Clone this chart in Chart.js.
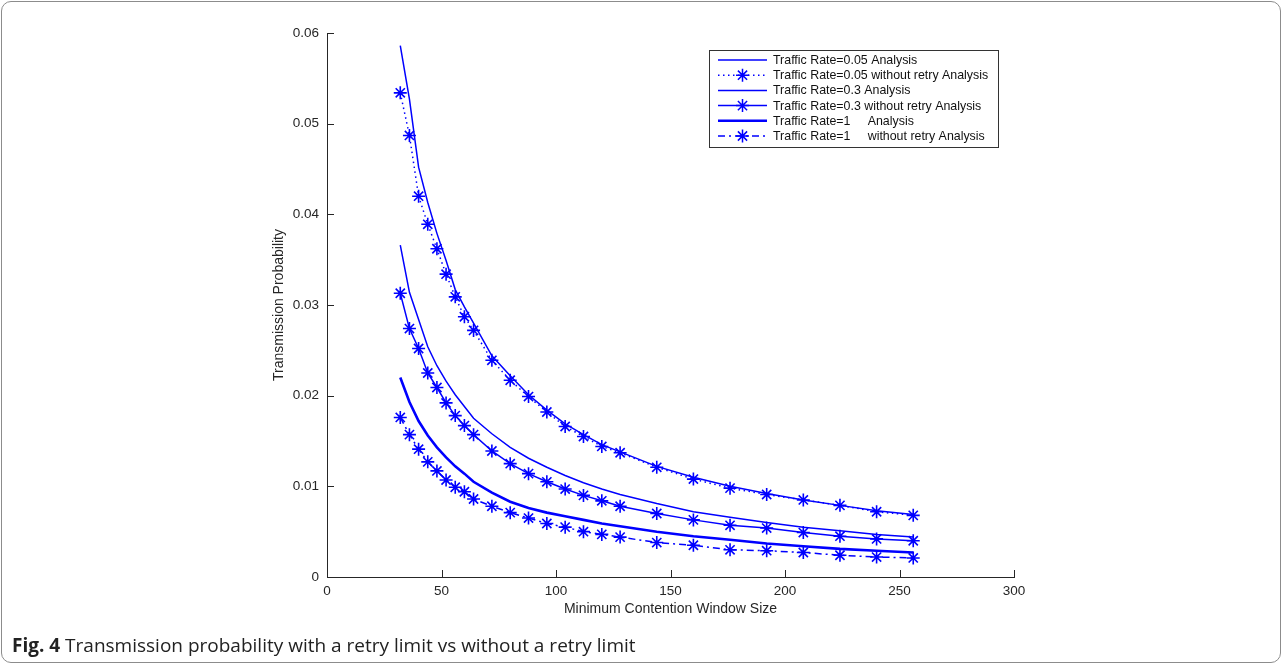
<!DOCTYPE html>
<html>
<head>
<meta charset="utf-8">
<script src="https://cdn.jsdelivr.net/npm/chart.js@4.4.1/dist/chart.umd.min.js"></script>
<style>
  html, body { margin: 0; padding: 0; background: #fff; }
  #wrap { position: relative; width: 1282px; height: 664px; }
  #frame {
    position: absolute; left: 1px; top: 1px; width: 1278px; height: 660px;
    border: 1px solid #8c8c8c; border-radius: 10px; pointer-events: none;
  }
  #caption {
    position: absolute; left: 12px; top: 632px;
    font-family: "Open Sans", "Noto Sans", sans-serif; font-size: 19px; color: #222;
    white-space: nowrap;
  }
  #caption b { font-weight: 700; }
</style>
</head>
<body>
<div id="wrap">
  <canvas id="chart" width="1282" height="664"></canvas>
  <div id="frame"></div>
  <div id="caption"><b>Fig. 4</b> Transmission probability with a retry limit vs without a retry limit</div>
</div>
<script>
// minimum contention window sizes (x axis)
const cwSizes = [32, 36, 40, 44, 48, 52, 56, 60, 64, 72, 80, 88, 96, 104, 112, 120, 128, 144, 160, 176, 192, 208, 224, 240, 256];

const rate005Analysis = [0.0586, 0.0527, 0.0452, 0.0413, 0.0379, 0.0349, 0.0317, 0.0298, 0.0280, 0.0244, 0.0222, 0.0201, 0.0184, 0.0169, 0.0157, 0.0146, 0.0138, 0.0122, 0.0110, 0.0100, 0.0092, 0.0085, 0.0079, 0.0073, 0.0069];
const rate005NoRetry = [0.0534, 0.0487, 0.0420, 0.0389, 0.0362, 0.0334, 0.0309, 0.0287, 0.0272, 0.0239, 0.0217, 0.0199, 0.0182, 0.0166, 0.0155, 0.0144, 0.0137, 0.0121, 0.0108, 0.0098, 0.0091, 0.0085, 0.0079, 0.0072, 0.0068];
const rate03Analysis = [0.0366, 0.0314, 0.0284, 0.0254, 0.0233, 0.0216, 0.0201, 0.0188, 0.0175, 0.0158, 0.0143, 0.0131, 0.0121, 0.0112, 0.0104, 0.0097, 0.0091, 0.0081, 0.0072, 0.0066, 0.0060, 0.0055, 0.0051, 0.0047, 0.0044];
const rate03NoRetry = [0.0313, 0.0274, 0.0252, 0.0225, 0.0209, 0.0192, 0.0178, 0.0167, 0.0157, 0.0139, 0.0125, 0.0114, 0.0105, 0.0097, 0.0090, 0.0084, 0.0078, 0.0070, 0.0063, 0.0057, 0.0054, 0.0049, 0.0045, 0.0042, 0.0040];
const rate1Analysis = [0.0220, 0.0193, 0.0172, 0.0156, 0.0143, 0.0132, 0.0122, 0.0114, 0.0105, 0.0093, 0.0083, 0.0076, 0.0071, 0.0067, 0.0063, 0.0059, 0.0056, 0.0050, 0.0045, 0.0041, 0.0037, 0.0034, 0.0031, 0.0029, 0.0027];
const rate1NoRetry = [0.0176, 0.0157, 0.0141, 0.0127, 0.0117, 0.0107, 0.0099, 0.0094, 0.0086, 0.0078, 0.0071, 0.0065, 0.0059, 0.0055, 0.0050, 0.0047, 0.0044, 0.0038, 0.0035, 0.0030, 0.0029, 0.0027, 0.0024, 0.0022, 0.0021];

const xTicks = [0, 50, 100, 150, 200, 250, 300];
const yTicks = [0, 0.01, 0.02, 0.03, 0.04, 0.05, 0.06];

const BLUE = 'rgb(0,0,255)';
const AXIS = '#262626';

function pts(values) {
    return cwSizes.map((x, i) => ({ x: x, y: values[i] }));
}

function series(label, values, opts) {
    return Object.assign({
        label: label,
        data: pts(values),
        borderColor: BLUE,
        backgroundColor: BLUE,
        borderWidth: 1.5,
        pointRadius: 0,
        pointStyle: 'star',
        pointBorderWidth: 1.6,
        tension: 0,
        fill: false
    }, opts);
}

const datasets = [
    series('Traffic Rate=0.05 Analysis', rate005Analysis, {}),
    series('Traffic Rate=0.05 without retry Analysis', rate005NoRetry, { borderDash: [1.5, 3.5], pointRadius: 6.5 }),
    series('Traffic Rate=0.3 Analysis', rate03Analysis, {}),
    series('Traffic Rate=0.3 without retry Analysis', rate03NoRetry, { pointRadius: 6.5 }),
    series('Traffic Rate=1     Analysis', rate1Analysis, { borderWidth: 2.6 }),
    series('Traffic Rate=1     without retry Analysis', rate1NoRetry, { borderDash: [7, 4, 2, 4], pointRadius: 6.5 })
];

// MATLAB style ticks pointing into the plot
const innerTicks = {
    id: 'innerTicks',
    afterDraw(chart) {
        const ctx = chart.ctx;
        const xs = chart.scales.x, ys = chart.scales.y;
        const area = chart.chartArea;
        ctx.save();
        ctx.strokeStyle = AXIS;
        ctx.lineWidth = 1;
        ctx.beginPath();
        xTicks.forEach(v => {
            const px = Math.round(xs.getPixelForValue(v)) + 0.5;
            ctx.moveTo(px, area.bottom);
            ctx.lineTo(px, area.bottom - 7);
        });
        yTicks.forEach(v => {
            const py = Math.round(ys.getPixelForValue(v)) + 0.5;
            ctx.moveTo(area.left, py);
            ctx.lineTo(area.left + 7, py);
        });
        ctx.stroke();
        ctx.restore();
    }
};

// boxed legend drawn inside the axes, top right
const boxLegend = {
    id: 'boxLegend',
    afterDraw(chart) {
        const ctx = chart.ctx;
        const left = 709, top = 50, w = 289, h = 97;
        ctx.save();
        ctx.fillStyle = '#fff';
        ctx.fillRect(left, top, w, h);
        ctx.strokeStyle = '#333';
        ctx.lineWidth = 1;
        ctx.strokeRect(left + 0.5, top + 0.5, w, h);
        ctx.font = '12.4px "Liberation Sans", Arial, sans-serif';
        ctx.textBaseline = 'middle';
        chart.data.datasets.forEach((ds, i) => {
            const y = top + 10 + i * 15.2;
            ctx.strokeStyle = ds.borderColor;
            ctx.lineWidth = ds.borderWidth;
            ctx.setLineDash(ds.borderDash || []);
            ctx.beginPath();
            ctx.moveTo(left + 9, y);
            ctx.lineTo(left + 58, y);
            ctx.stroke();
            ctx.setLineDash([]);
            if (ds.pointRadius > 0) {
                ctx.fillStyle = ds.borderColor;
                Chart.helpers.drawPoint(ctx, { pointStyle: 'star', radius: 6.5, borderWidth: 1.6 }, left + 33.5, y);
            }
            ctx.fillStyle = '#111';
            ctx.fillText(ds.label, left + 64, y + 0.5);
        });
        ctx.restore();
    }
};

new Chart(document.getElementById('chart').getContext('2d'), {
    type: 'line',
    data: { datasets: datasets },
    options: {
        responsive: false,
        animation: false,
        events: [],
        layout: { padding: { left: 271, right: 268, top: 33, bottom: 42 } },
        scales: {
            x: {
                type: 'linear',
                min: 0,
                max: 300,
                afterFit: s => { s.height = 45; },
                afterBuildTicks: s => { s.ticks = xTicks.map(v => ({ value: v })); },
                grid: { display: false, drawTicks: false },
                border: { display: true, color: AXIS, width: 1 },
                ticks: { color: AXIS, padding: 6, font: { family: '"Liberation Sans", Arial', size: 13.5 } },
                title: {
                    display: true,
                    text: 'Minimum Contention Window Size',
                    color: AXIS,
                    padding: { top: 2 },
                    font: { family: '"Liberation Sans", Arial', size: 14 }
                }
            },
            y: {
                min: 0,
                max: 0.06,
                afterFit: s => { s.width = 56; },
                afterBuildTicks: s => { s.ticks = yTicks.map(v => ({ value: v })); },
                grid: { display: false, drawTicks: false },
                border: { display: true, color: AXIS, width: 1 },
                ticks: {
                    color: AXIS,
                    padding: 8,
                    font: { family: '"Liberation Sans", Arial', size: 13.5 },
                    callback: v => String(+v.toFixed(2))
                },
                title: {
                    display: true,
                    text: 'Transmission Probability',
                    color: AXIS,
                    padding: { top: 0, bottom: 0 },
                    font: { family: '"Liberation Sans", Arial', size: 14 }
                }
            }
        },
        plugins: {
            legend: { display: false },
            tooltip: { enabled: false }
        }
    },
    plugins: [innerTicks, boxLegend]
});
</script>
</body>
</html>
